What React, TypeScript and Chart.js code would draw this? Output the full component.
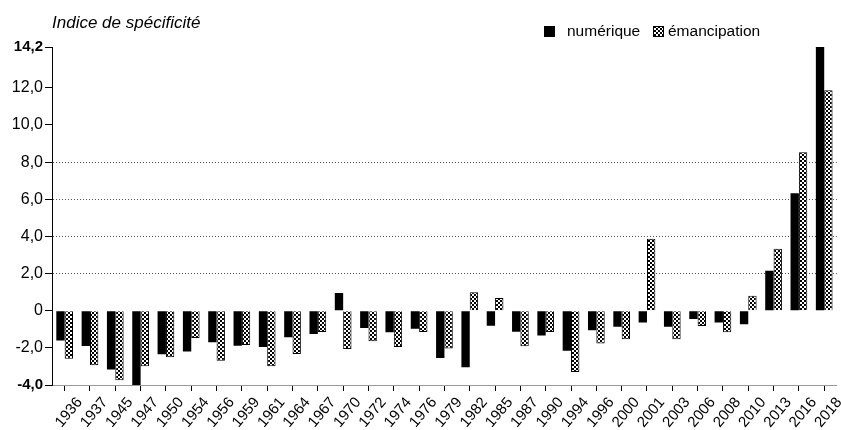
import React, { useEffect, useRef } from "react";
import { Chart, registerables } from "chart.js";

Chart.register(...registerables);

const categories = ["1936","1937","1945","1947","1950","1954","1956","1959","1961","1964","1967","1970","1972","1974","1976","1979","1982","1985","1987","1990","1994","1996","2000","2001","2003","2006","2008","2010","2013","2016","2018"];
const numerique = [-1.6,-1.9,-3.17,-4.0,-2.35,-2.19,-1.7,-1.88,-1.95,-1.43,-1.25,0.95,-0.93,-1.16,-0.97,-2.54,-3.05,-0.81,-1.13,-1.33,-2.16,-1.05,-0.87,-0.64,-0.87,-0.44,-0.64,-0.73,2.15,6.33,14.2];
const emancipation = [-2.58,-2.94,-3.75,-2.99,-2.51,-1.47,-2.69,-1.85,-2.99,-2.33,-1.15,-2.06,-1.65,-1.95,-1.15,-2.04,1.0,0.68,-1.92,-1.15,-3.3,-1.77,-1.53,3.87,-1.53,-0.82,-1.16,0.8,3.33,8.53,11.87];
const seriesLabels = ["numérique", "émancipation"];
const yTickValues = [-4, -2, 0, 2, 4, 6, 8, 10, 12, 14.2];
const gridValues = [2, 4, 6, 8];
const boldTicks = [-4, 14.2];
const yTitle = "Indice de spécificité";

const FONT = "'Liberation Sans', Arial, sans-serif";

function makePattern(): CanvasPattern | string {
  const c = document.createElement("canvas");
  c.width = 4;
  c.height = 4;
  const g = c.getContext("2d");
  if (!g) return "#888";
  g.fillStyle = "#fff";
  g.fillRect(0, 0, 4, 4);
  g.fillStyle = "#000";
  g.fillRect(0, 0, 2, 2);
  g.fillRect(2, 2, 2, 2);
  const p = g.createPattern(c, "repeat");
  return p || "#888";
}

function fmt(v: number): string {
  if (v === 0) return "0";
  return v.toFixed(1).replace(".", ",");
}

export default function App() {
  const ref = useRef<HTMLCanvasElement | null>(null);
  useEffect(() => {
    if (!ref.current) return;
    const pattern = makePattern();
    const decor = {
      id: "decor",
      afterDraw(chart: any) {
        const ctx = chart.ctx;
        ctx.save();
        ctx.fillStyle = "#000";
        ctx.textBaseline = "alphabetic";
        ctx.font = `italic 17px ${FONT}`;
        ctx.fillText(yTitle, 52, 28);
        // legend
        ctx.font = `15.5px ${FONT}`;
        ctx.fillStyle = "#000";
        ctx.fillRect(544, 26, 11, 11);
        ctx.fillText(seriesLabels[0], 567, 36);
        ctx.fillStyle = pattern as any;
        ctx.fillRect(653, 26, 11, 11);
        ctx.strokeStyle = "#000";
        ctx.lineWidth = 1;
        ctx.strokeRect(653.5, 26.5, 10, 10);
        ctx.fillStyle = "#000";
        ctx.fillText(seriesLabels[1], 668, 36);
        ctx.restore();
      },
    };
    const chart = new Chart(ref.current, {
      type: "bar",
      data: {
        labels: categories,
        datasets: [
          {
            label: seriesLabels[0],
            data: numerique,
            backgroundColor: "#000",
            borderWidth: 0,
            categoryPercentage: 0.66,
            barPercentage: 1.0,
          },
          {
            label: seriesLabels[1],
            data: emancipation,
            backgroundColor: pattern as any,
            borderColor: "#000",
            borderWidth: 1,
            categoryPercentage: 0.66,
            barPercentage: 1.0,
          },
        ],
      },
      options: {
        animation: false,
        responsive: false,
        maintainAspectRatio: false,
        layout: { padding: { top: 47, left: 0, right: 0, bottom: 0 } },
        plugins: {
          legend: { display: false },
          tooltip: { enabled: false },
          title: { display: false },
        },
        scales: {
          x: {
            offset: true,
            afterFit: (scale: any) => {
              scale.height = 45;
            },
            grid: {
              offset: false,
              drawOnChartArea: false,
              drawTicks: true,
              tickLength: 6,
              tickColor: "#000",
              color: "#000",
            },
            border: { display: true, color: "#999", width: 1 },
            ticks: {
              autoSkip: false,
              minRotation: 50,
              maxRotation: 50,
              color: "#000",
              padding: 3,
              labelOffset: 15,
              font: { family: FONT, size: 15 },
            },
          },
          y: {
            min: -4,
            max: 14.2,
            afterBuildTicks: (scale: any) => {
              scale.ticks = yTickValues.map((v) => ({ value: v }));
            },
            afterFit: (scale: any) => {
              scale.width = 52;
            },
            grid: {
              drawOnChartArea: true,
              drawTicks: true,
              tickLength: 7,
              tickColor: "#000",
              color: (ctx: any) =>
                ctx.tick && gridValues.includes(ctx.tick.value) ? "#555" : "rgba(0,0,0,0)",
              lineWidth: 1,
            },
            border: { display: true, color: "#000", width: 1, dash: [1, 2] },
            ticks: {
              color: "#000",
              padding: 2,
              callback: (v: any) => fmt(Number(v)),
              font: (ctx: any) => {
                const b = ctx.tick && boldTicks.includes(ctx.tick.value);
                return { family: FONT, size: b ? 15 : 16, weight: b ? "bold" : "normal" };
              },
            },
          },
        },
      },
      plugins: [decor],
    });
    return () => chart.destroy();
  }, []);
  return (
    <div style={{ position: "fixed", left: 0, top: 0, width: 841, height: 430, background: "#fff" }}>
      <canvas ref={ref} width={841} height={430} style={{ width: 841, height: 430, display: "block" }} />
    </div>
  );
}
